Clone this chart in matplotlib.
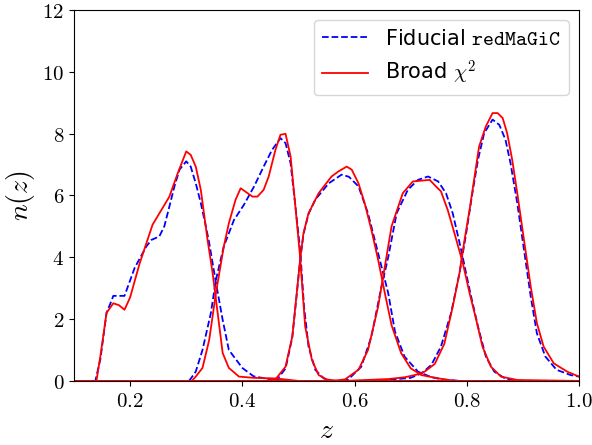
import matplotlib
matplotlib.use("Agg")
from matplotlib import pyplot as plt

plt.rcParams['mathtext.fontset'] = 'cm'

# fiducial redMaGiC n(z), one pair of lists per tomographic bin
fid_z1 = [0.10, 0.138, 0.147, 0.158, 0.167, 0.17, 0.19, 0.208, 0.229, 0.238, 0.252, 0.261, 0.27, 0.279, 0.288, 0.30, 0.308, 0.317, 0.326, 0.335, 0.341, 0.353, 0.365, 0.376, 0.40, 0.42, 0.45, 0.48, 1.0]
fid_n1 = [0.0, 0.0, 0.7, 2.2, 2.6, 2.75, 2.75, 3.65, 4.35, 4.56, 4.67, 5.0, 5.64, 6.29, 6.83, 7.1, 6.93, 6.39, 5.75, 5.0, 4.46, 3.17, 1.97, 1.0, 0.42, 0.15, 0.05, 0.0, 0.0]
fid_z2 = [0.10, 0.30, 0.306, 0.317, 0.329, 0.344, 0.353, 0.367, 0.385, 0.403, 0.421, 0.438, 0.453, 0.468, 0.477, 0.486, 0.494, 0.503, 0.51, 0.518, 0.53, 0.545, 0.56, 1.0]
fid_n2 = [0.0, 0.0, 0.02, 0.3, 1.0, 2.2, 3.27, 4.35, 5.2, 5.7, 6.29, 6.93, 7.47, 7.85, 7.69, 7.04, 5.75, 4.24, 2.4, 1.11, 0.36, 0.08, 0.0, 0.0]
fid_z3 = [0.10, 0.46, 0.477, 0.489, 0.497, 0.503, 0.509, 0.518, 0.53, 0.554, 0.577, 0.59, 0.607, 0.624, 0.642, 0.66, 0.672, 0.689, 0.713, 0.737, 0.76, 0.79, 1.0]
fid_n3 = [0.0, 0.0, 0.4, 1.4, 2.8, 3.9, 4.75, 5.4, 5.86, 6.39, 6.67, 6.6, 6.29, 5.42, 4.13, 2.84, 1.6, 0.79, 0.3, 0.12, 0.04, 0.0, 0.0]
fid_z4 = [0.10, 0.57, 0.589, 0.612, 0.63, 0.648, 0.66, 0.675, 0.695, 0.713, 0.731, 0.749, 0.763, 0.775, 0.79, 0.805, 0.82, 0.834, 0.849, 0.87, 0.89, 1.0]
fid_n4 = [0.0, 0.0, 0.05, 0.46, 1.43, 3.05, 4.0, 5.42, 6.18, 6.5, 6.61, 6.45, 6.07, 5.42, 4.24, 2.95, 1.76, 0.79, 0.3, 0.06, 0.0, 0.0]
fid_z5 = [0.10, 0.64, 0.70, 0.72, 0.737, 0.754, 0.772, 0.787, 0.799, 0.81, 0.82, 0.831, 0.846, 0.858, 0.869, 0.878, 0.89, 0.902, 0.914, 0.925, 0.94, 0.96, 0.985, 1.0]
fid_n5 = [0.0, 0.0, 0.1, 0.25, 0.52, 1.11, 2.19, 3.48, 4.78, 6.07, 7.15, 8.01, 8.45, 8.28, 7.8, 7.04, 5.75, 4.24, 2.73, 1.54, 0.79, 0.36, 0.19, 0.14]

# broad chi^2 n(z)
chi_z1 = [0.10, 0.14, 0.147, 0.158, 0.17, 0.18, 0.19, 0.20, 0.217, 0.24, 0.27, 0.285, 0.30, 0.308, 0.317, 0.326, 0.338, 0.347, 0.356, 0.365, 0.376, 0.394, 0.42, 0.46, 0.50, 1.0]
chi_n1 = [0.0, 0.0, 0.8, 2.2, 2.51, 2.45, 2.3, 2.7, 3.8, 5.05, 5.96, 6.72, 7.42, 7.31, 6.93, 6.18, 4.56, 3.5, 2.2, 0.9, 0.42, 0.14, 0.1, 0.08, 0.0, 0.0]
chi_z2 = [0.10, 0.31, 0.317, 0.329, 0.341, 0.353, 0.367, 0.376, 0.388, 0.397, 0.418, 0.427, 0.438, 0.447, 0.459, 0.468, 0.477, 0.486, 0.494, 0.503, 0.512, 0.524, 0.536, 0.55, 0.57, 1.0]
chi_n2 = [0.0, 0.0, 0.14, 0.42, 1.33, 2.85, 4.35, 5.1, 5.86, 6.23, 5.96, 5.96, 6.18, 6.61, 7.47, 7.96, 7.99, 7.26, 5.75, 4.0, 1.76, 0.68, 0.19, 0.05, 0.0, 0.0]
chi_z3 = [0.10, 0.44, 0.459, 0.477, 0.489, 0.497, 0.503, 0.509, 0.518, 0.536, 0.559, 0.571, 0.586, 0.595, 0.607, 0.618, 0.63, 0.642, 0.654, 0.666, 0.683, 0.70, 0.719, 0.75, 0.78, 1.0]
chi_n3 = [0.0, 0.0, 0.05, 0.46, 1.43, 2.84, 3.92, 4.78, 5.42, 6.07, 6.61, 6.77, 6.93, 6.83, 6.39, 5.75, 4.89, 3.92, 2.84, 1.8, 0.9, 0.41, 0.19, 0.08, 0.0, 0.0]
chi_z4 = [0.10, 0.56, 0.583, 0.607, 0.624, 0.642, 0.654, 0.666, 0.686, 0.704, 0.734, 0.745, 0.754, 0.766, 0.778, 0.793, 0.805, 0.817, 0.828, 0.843, 0.861, 0.89, 1.0]
chi_n4 = [0.0, 0.0, 0.05, 0.36, 1.0, 2.4, 3.7, 5.0, 6.07, 6.45, 6.5, 6.29, 6.13, 5.53, 4.78, 3.81, 2.84, 1.97, 1.11, 0.46, 0.14, 0.03, 0.0]
chi_z5 = [0.10, 0.58, 0.62, 0.66, 0.69, 0.71, 0.725, 0.743, 0.76, 0.775, 0.787, 0.796, 0.805, 0.813, 0.822, 0.834, 0.846, 0.855, 0.864, 0.872, 0.881, 0.89, 0.902, 0.914, 0.925, 0.937, 0.955, 0.979, 1.0]
chi_n5 = [0.0, 0.0, 0.03, 0.06, 0.12, 0.2, 0.3, 0.55, 1.2, 2.4, 3.48, 4.56, 5.53, 6.5, 7.58, 8.23, 8.66, 8.66, 8.5, 8.01, 7.15, 6.07, 4.56, 3.05, 1.87, 1.11, 0.57, 0.3, 0.14]

fid = [(fid_z1, fid_n1), (fid_z2, fid_n2), (fid_z3, fid_n3), (fid_z4, fid_n4), (fid_z5, fid_n5)]
chi = [(chi_z1, chi_n1), (chi_z2, chi_n2), (chi_z3, chi_n3), (chi_z4, chi_n4), (chi_z5, chi_n5)]

xticks = [0.2, 0.4, 0.6, 0.8, 1.0]
yticks = [0, 2, 4, 6, 8, 10, 12]

fig = plt.figure(figsize=(5.92, 4.45), dpi=100)
ax = fig.add_axes([0.125, 0.144, 0.853, 0.834])

for i in range(5):
    ax.plot(fid[i][0], fid[i][1], 'b--', lw=1.3,
            label=r'Fiducial $\mathtt{redMaGiC}$' if i == 0 else None)
for i in range(5):
    ax.plot(chi[i][0], chi[i][1], 'r-', lw=1.3,
            label=r'Broad $\chi^2$' if i == 0 else None)

ax.set_xlim(0.1, 1.0)
ax.set_ylim(0, 12)
ax.set_xticks(xticks, labels=['$%.1f$' % t for t in xticks], fontsize=15)
ax.set_yticks(yticks, labels=['$%d$' % t for t in yticks], fontsize=15)
ax.set_xlabel('$z$', fontsize=20)
ax.set_ylabel('$n(z)$', fontsize=20)
ax.legend(loc='upper right', fontsize=15, handlelength=2.2, borderaxespad=0.5)

fig.savefig('out.png', dpi=100)
